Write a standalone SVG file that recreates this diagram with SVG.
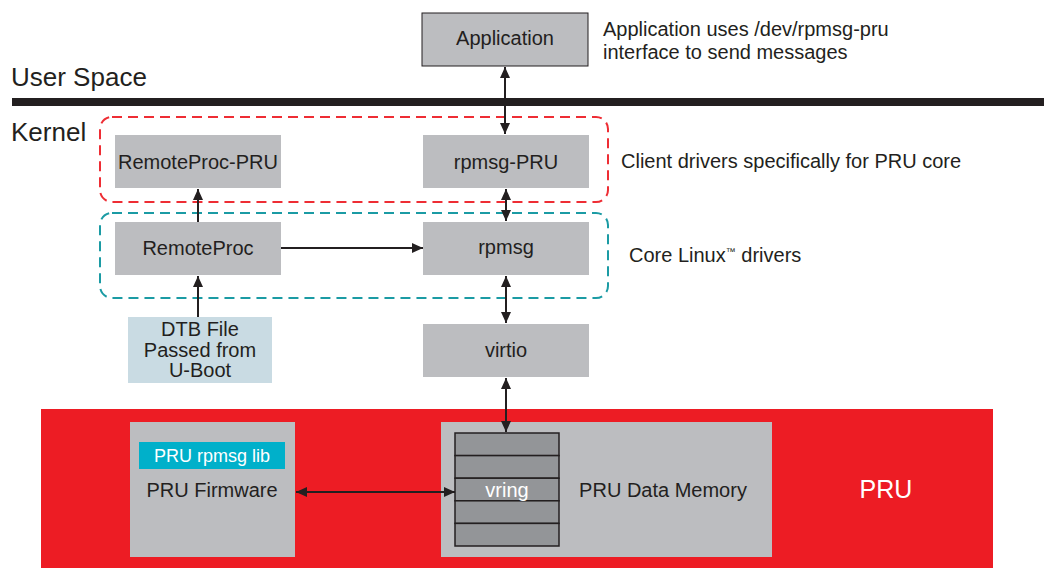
<svg xmlns="http://www.w3.org/2000/svg" width="1044" height="568" viewBox="0 0 1044 568">
<style>
text{font-family:"Liberation Sans",Arial,sans-serif;fill:#231f20;}
.lbl{font-size:20px;text-anchor:middle;}
.note{font-size:20px;}
.big{font-size:26px;}
.box{fill:#bcbdc0;}
.conn{stroke:#231f20;stroke-width:2;fill:none;}
.vr{fill:#939598;stroke:#231f20;stroke-width:1.5;}
</style>
<defs>
<marker id="ah" viewBox="0 0 11 10" refX="11" refY="5" markerWidth="11" markerHeight="10" markerUnits="userSpaceOnUse" orient="auto-start-reverse">
<path d="M0,0 L11,5 L0,10 Z" fill="#231f20"/>
</marker>
</defs>
<rect width="1044" height="568" fill="#ffffff"/>

<text class="big" x="11" y="86">User Space</text>
<rect x="12" y="98" width="1032" height="8" fill="#231f20"/>
<text class="big" x="11" y="141">Kernel</text>

<rect id="client-group" x="100" y="117" width="508" height="85" rx="12" fill="none" stroke="#ee2d34" stroke-width="2" stroke-dasharray="10 6"/>
<rect id="core-group" x="100" y="213" width="508" height="85" rx="12" fill="none" stroke="#1b9ba4" stroke-width="2" stroke-dasharray="10 6"/>

<g id="pru-band">
<rect x="41" y="409" width="952" height="159" fill="#ed1c24"/>
<text x="886" y="498" font-size="25" text-anchor="middle" style="fill:#ffffff">PRU</text>
</g>

<g id="application">
<rect x="422" y="13" width="166" height="53" fill="#bcbdc0" stroke="#231f20" stroke-width="1"/>
<text class="lbl" x="505" y="45">Application</text>
</g>
<text class="note" x="603" y="36">Application uses /dev/rpmsg-pru</text>
<text class="note" x="603" y="59">interface to send messages</text>

<g id="remoteproc-pru">
<rect class="box" x="115" y="135" width="166" height="53"/>
<text class="lbl" x="198" y="169">RemoteProc-PRU</text>
</g>
<g id="rpmsg-pru">
<rect class="box" x="423" y="135" width="166" height="53"/>
<text class="lbl" x="506" y="169">rpmsg-PRU</text>
</g>
<text class="note" x="621" y="168">Client drivers specifically for PRU core</text>

<g id="remoteproc">
<rect class="box" x="115" y="222" width="166" height="53"/>
<text class="lbl" x="198" y="255">RemoteProc</text>
</g>
<g id="rpmsg">
<rect class="box" x="423" y="222" width="166" height="53"/>
<text class="lbl" x="506" y="254">rpmsg</text>
</g>
<text class="note" x="629" y="262">Core Linux<tspan font-size="10" dy="-7">™</tspan><tspan dy="7"> drivers</tspan></text>

<g id="dtb">
<rect x="128" y="317" width="144" height="66" fill="#c9dbe3"/>
<text class="lbl" x="200" y="336">DTB File</text>
<text class="lbl" x="200" y="357">Passed from</text>
<text class="lbl" x="200" y="377">U-Boot</text>
</g>

<g id="virtio">
<rect class="box" x="423" y="324" width="166" height="53"/>
<text class="lbl" x="506" y="357">virtio</text>
</g>

<g id="pru-firmware">
<rect class="box" x="130" y="422" width="165" height="135"/>
<rect x="139" y="442" width="146" height="27" fill="#00b0ca"/>
<text x="212" y="462" font-size="18" text-anchor="middle" style="fill:#ffffff">PRU rpmsg lib</text>
<text class="lbl" x="212" y="497">PRU Firmware</text>
</g>

<g id="pru-data-memory">
<rect class="box" x="441" y="422" width="331" height="135"/>
<rect class="vr" x="455" y="433" width="104" height="22.6"/>
<rect class="vr" x="455" y="455.6" width="104" height="22.6"/>
<rect class="vr" x="455" y="478.2" width="104" height="22.6"/>
<rect class="vr" x="455" y="500.8" width="104" height="22.6"/>
<rect class="vr" x="455" y="523.4" width="104" height="22.6"/>
<text class="lbl" x="507" y="497" style="fill:#ffffff">vring</text>
<text class="lbl" x="663" y="497">PRU Data Memory</text>
</g>

<g id="connectors">
<line class="conn" x1="505" y1="67" x2="505" y2="134" marker-start="url(#ah)" marker-end="url(#ah)"/>
<line class="conn" x1="198" y1="222" x2="198" y2="189" marker-end="url(#ah)"/>
<line class="conn" x1="506" y1="189" x2="506" y2="221" marker-start="url(#ah)" marker-end="url(#ah)"/>
<line class="conn" x1="281" y1="248" x2="423" y2="248" marker-end="url(#ah)"/>
<line class="conn" x1="198" y1="317" x2="198" y2="276" marker-end="url(#ah)"/>
<line class="conn" x1="506" y1="276" x2="506" y2="323" marker-start="url(#ah)" marker-end="url(#ah)"/>
<line class="conn" x1="506" y1="378" x2="506" y2="432" marker-start="url(#ah)" marker-end="url(#ah)"/>
<line class="conn" x1="296" y1="492" x2="455" y2="492" marker-start="url(#ah)" marker-end="url(#ah)"/>
</g>
</svg>
